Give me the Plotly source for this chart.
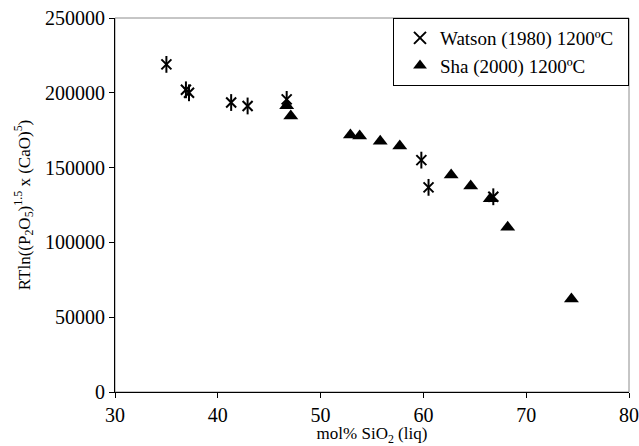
import plotly.graph_objects as go

# Watson (1980), 1200 °C
watson_sio2 = [35.0, 36.9, 37.2, 41.3, 42.9, 46.7, 59.8, 60.5, 66.8]
watson_rtln = [219000, 202000, 200000, 193500, 191200, 195600, 155000, 136800, 130500]

# Sha (2000), 1200 °C
sha_sio2 = [46.7, 47.1, 52.9, 53.8, 55.8, 57.7, 62.7, 64.6, 66.5, 68.2, 74.4]
sha_rtln = [191400, 184500, 171800, 171100, 167600, 164400, 145100, 137700, 129200, 110100, 62200]

x_ticks = [30, 40, 50, 60, 70, 80]
y_ticks = [0, 50000, 100000, 150000, 200000, 250000]

FONT = "Liberation Serif"
NBSP = "\u00a0"

fig = go.Figure()

fig.add_trace(go.Scatter(
    x=watson_sio2, y=watson_rtln, mode="markers",
    name="Watson (1980) 1200ºC" + NBSP * 2, legendgroup="w",
    marker=dict(symbol="x-thin-open", size=10, color="black",
                line=dict(width=2, color="black")),
))
fig.add_trace(go.Scatter(
    x=watson_sio2, y=watson_rtln, mode="markers",
    name="Watson (1980) 1200ºC", legendgroup="w", showlegend=False,
    marker=dict(symbol="line-ns-open", size=12, color="black",
                line=dict(width=2, color="black")),
))
fig.add_trace(go.Scatter(
    x=sha_sio2, y=sha_rtln, mode="markers",
    name="Sha (2000) 1200ºC",
    marker=dict(symbol="triangle-up", size=13, color="black",
                line=dict(width=0)),
))

# Gray plot-area frame
fig.add_shape(type="rect", xref="paper", yref="paper", x0=0, y0=0, x1=1, y1=1,
              line=dict(color="#8c8c8c", width=1), layer="below")

axis_common = dict(
    showgrid=False, zeroline=False, showline=True, linecolor="black", linewidth=1,
    ticks="outside", ticklen=5, tickcolor="black", tickwidth=1,
    tickfont=dict(family=FONT, size=20, color="black"),
    automargin=False,
)

fig.update_xaxes(
    range=[30, 80], tickvals=x_ticks, ticktext=[str(v) for v in x_ticks],
    title=dict(text="mol% SiO<sub>2</sub> (liq)", font=dict(family=FONT, size=17, color="black"),
               standoff=4),
    **axis_common,
)
fig.update_yaxes(
    range=[0, 250000], tickvals=y_ticks, ticktext=[str(v) for v in y_ticks],
    title=dict(text="RTln((P<sub>2</sub>O<sub>5</sub>)<sup>1.5</sup> x (CaO)<sup>5</sup>)",
               font=dict(family=FONT, size=17, color="black"), standoff=10),
    **axis_common,
)

fig.update_layout(
    autosize=True,
    margin=dict(l=115, r=10, t=18, b=54),
    paper_bgcolor="white", plot_bgcolor="white",
    showlegend=True,
    legend=dict(
        x=1, y=1, xanchor="right", yanchor="top",
        bgcolor="white", bordercolor="black", borderwidth=1,
        font=dict(family=FONT, size=19, color="black"),
        tracegroupgap=0, itemsizing="constant", indentation=6,
    ),
)

fig.write_html("out.html", default_width="100%", default_height="100%")
